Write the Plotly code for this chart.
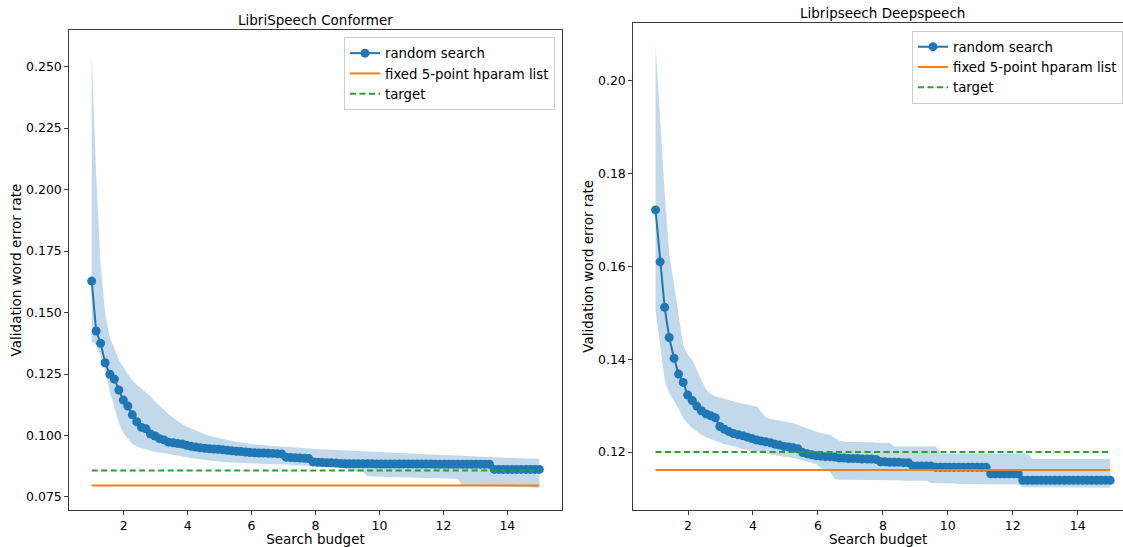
import plotly.graph_objects as go

# ---------------- data ----------------
BUDGET = [1.00, 1.14, 1.28, 1.42, 1.57, 1.71, 1.85, 1.99, 2.13, 2.27,
          2.41, 2.56, 2.70, 2.84, 2.98, 3.12, 3.26, 3.40, 3.55, 3.69,
          3.83, 3.97, 4.11, 4.25, 4.39, 4.54, 4.68, 4.82, 4.96, 5.10,
          5.24, 5.38, 5.53, 5.67, 5.81, 5.95, 6.09, 6.23, 6.37, 6.52,
          6.66, 6.80, 6.94, 7.08, 7.22, 7.36, 7.51, 7.65, 7.79, 7.93,
          8.07, 8.21, 8.35, 8.49, 8.64, 8.78, 8.92, 9.06, 9.20, 9.34,
          9.48, 9.63, 9.77, 9.91, 10.05, 10.19, 10.33, 10.47, 10.62, 10.76,
          10.90, 11.04, 11.18, 11.32, 11.46, 11.61, 11.75, 11.89, 12.03, 12.17,
          12.31, 12.45, 12.60, 12.74, 12.88, 13.02, 13.16, 13.30, 13.44, 13.59,
          13.73, 13.87, 14.01, 14.15, 14.29, 14.43, 14.58, 14.72, 14.86, 15.00]

CONF_MEAN = [0.1628, 0.1425, 0.1375, 0.1296, 0.1249, 0.1229, 0.1185, 0.1144, 0.1120, 0.1084,
             0.1056, 0.1033, 0.1027, 0.1006, 0.0998, 0.0987, 0.0982, 0.0973, 0.0970, 0.0967,
             0.0965, 0.0960, 0.0956, 0.0953, 0.0950, 0.0948, 0.0946, 0.0945, 0.0944, 0.0942,
             0.0940, 0.0938, 0.0936, 0.0935, 0.0933, 0.0931, 0.0930, 0.0929, 0.0929, 0.0928,
             0.0927, 0.0926, 0.0925, 0.0912, 0.0910, 0.0909, 0.0908, 0.0907, 0.0906, 0.0892,
             0.0891, 0.0890, 0.0889, 0.0889, 0.0888, 0.0886, 0.0885, 0.0885, 0.0885, 0.0885,
             0.0885, 0.0885, 0.0885, 0.0884, 0.0884, 0.0884, 0.0884, 0.0884, 0.0884, 0.0884,
             0.0884, 0.0884, 0.0884, 0.0884, 0.0884, 0.0884, 0.0883, 0.0883, 0.0883, 0.0883,
             0.0883, 0.0883, 0.0883, 0.0883, 0.0883, 0.0883, 0.0883, 0.0883, 0.0883, 0.0862,
             0.0862, 0.0862, 0.0862, 0.0862, 0.0862, 0.0862, 0.0862, 0.0862, 0.0862, 0.0862]

CONF_UPPER = [0.2554, 0.2059, 0.1693, 0.1500, 0.1395, 0.1355, 0.1307, 0.1278, 0.1250, 0.1226,
              0.1206, 0.1190, 0.1176, 0.1160, 0.1138, 0.1120, 0.1102, 0.1087, 0.1072, 0.1058,
              0.1047, 0.1037, 0.1029, 0.1020, 0.1012, 0.1005, 0.0999, 0.0994, 0.0990, 0.0986,
              0.0982, 0.0978, 0.0975, 0.0971, 0.0968, 0.0964, 0.0962, 0.0961, 0.0960, 0.0959,
              0.0958, 0.0957, 0.0955, 0.0953, 0.0952, 0.0951, 0.0950, 0.0948, 0.0946, 0.0945,
              0.0944, 0.0943, 0.0943, 0.0942, 0.0942, 0.0941, 0.0941, 0.0940, 0.0939, 0.0938,
              0.0937, 0.0936, 0.0935, 0.0934, 0.0932, 0.0931, 0.0930, 0.0929, 0.0928, 0.0927,
              0.0926, 0.0925, 0.0925, 0.0924, 0.0924, 0.0923, 0.0923, 0.0922, 0.0922, 0.0921,
              0.0920, 0.0919, 0.0918, 0.0917, 0.0916, 0.0915, 0.0914, 0.0914, 0.0912, 0.0911,
              0.0910, 0.0909, 0.0908, 0.0908, 0.0907, 0.0907, 0.0906, 0.0906, 0.0905, 0.0905]

CONF_LOWER = [0.1382, 0.1368, 0.1327, 0.1266, 0.1178, 0.1117, 0.1050, 0.1009, 0.0986, 0.0966,
              0.0955, 0.0948, 0.0944, 0.0938, 0.0934, 0.0932, 0.0928, 0.0925, 0.0922, 0.0918,
              0.0914, 0.0911, 0.0908, 0.0905, 0.0902, 0.0900, 0.0898, 0.0896, 0.0894, 0.0892,
              0.0891, 0.0890, 0.0889, 0.0888, 0.0887, 0.0886, 0.0886, 0.0885, 0.0885, 0.0884,
              0.0884, 0.0883, 0.0883, 0.0882, 0.0881, 0.0880, 0.0879, 0.0878, 0.0877, 0.0876,
              0.0875, 0.0874, 0.0873, 0.0872, 0.0871, 0.0870, 0.0868, 0.0858, 0.0856, 0.0855,
              0.0852, 0.0834, 0.0833, 0.0832, 0.0832, 0.0831, 0.0831, 0.0830, 0.0830, 0.0829,
              0.0829, 0.0828, 0.0828, 0.0828, 0.0827, 0.0827, 0.0827, 0.0826, 0.0826, 0.0826,
              0.0825, 0.0824, 0.0797, 0.0796, 0.0796, 0.0795, 0.0795, 0.0794, 0.0794, 0.0793,
              0.0793, 0.0792, 0.0792, 0.0791, 0.0791, 0.0790, 0.0790, 0.0789, 0.0788, 0.0787]

DEEP_MEAN = [0.1722, 0.1610, 0.1512, 0.1447, 0.1402, 0.1368, 0.1350, 0.1323, 0.1311, 0.1299,
             0.1289, 0.1282, 0.1278, 0.1274, 0.1255, 0.1249, 0.1244, 0.1240, 0.1237, 0.1235,
             0.1232, 0.1229, 0.1226, 0.1224, 0.1222, 0.1220, 0.1217, 0.1215, 0.1212, 0.1211,
             0.1209, 0.1207, 0.1199, 0.1196, 0.1194, 0.1192, 0.1191, 0.1190, 0.1190, 0.1189,
             0.1187, 0.1187, 0.1186, 0.1186, 0.1186, 0.1185, 0.1185, 0.1185, 0.1184, 0.1179,
             0.1179, 0.1178, 0.1178, 0.1178, 0.1177, 0.1177, 0.1170, 0.1170, 0.1170, 0.1170,
             0.1170, 0.1167, 0.1167, 0.1167, 0.1167, 0.1167, 0.1167, 0.1167, 0.1167, 0.1167,
             0.1167, 0.1167, 0.1167, 0.1153, 0.1153, 0.1153, 0.1153, 0.1153, 0.1153, 0.1153,
             0.1139, 0.1139, 0.1139, 0.1139, 0.1139, 0.1139, 0.1139, 0.1139, 0.1139, 0.1139,
             0.1139, 0.1139, 0.1139, 0.1139, 0.1139, 0.1139, 0.1139, 0.1139, 0.1139, 0.1139]

DEEP_UPPER = [0.2078, 0.1915, 0.1760, 0.1629, 0.1560, 0.1490, 0.1430, 0.1410, 0.1398, 0.1378,
              0.1355, 0.1335, 0.1325, 0.1320, 0.1317, 0.1314, 0.1312, 0.1309, 0.1306, 0.1304,
              0.1302, 0.1300, 0.1298, 0.1287, 0.1275, 0.1271, 0.1269, 0.1267, 0.1265, 0.1263,
              0.1262, 0.1258, 0.1254, 0.1250, 0.1247, 0.1244, 0.1241, 0.1239, 0.1237, 0.1230,
              0.1225, 0.1222, 0.1222, 0.1222, 0.1221, 0.1221, 0.1221, 0.1221, 0.1220, 0.1220,
              0.1220, 0.1220, 0.1212, 0.1212, 0.1212, 0.1212, 0.1212, 0.1212, 0.1212, 0.1212,
              0.1212, 0.1212, 0.1197, 0.1197, 0.1197, 0.1197, 0.1197, 0.1197, 0.1197, 0.1197,
              0.1197, 0.1197, 0.1197, 0.1197, 0.1197, 0.1197, 0.1197, 0.1197, 0.1197, 0.1197,
              0.1197, 0.1197, 0.1185, 0.1185, 0.1185, 0.1185, 0.1185, 0.1185, 0.1185, 0.1185,
              0.1185, 0.1185, 0.1185, 0.1185, 0.1185, 0.1185, 0.1185, 0.1185, 0.1185, 0.1185]

DEEP_LOWER = [0.1506, 0.1427, 0.1355, 0.1327, 0.1309, 0.1294, 0.1273, 0.1262, 0.1251, 0.1244,
              0.1237, 0.1232, 0.1228, 0.1224, 0.1220, 0.1217, 0.1215, 0.1212, 0.1210, 0.1207,
              0.1204, 0.1203, 0.1201, 0.1199, 0.1198, 0.1196, 0.1194, 0.1192, 0.1190, 0.1189,
              0.1187, 0.1185, 0.1182, 0.1179, 0.1176, 0.1174, 0.1166, 0.1160, 0.1158, 0.1142,
              0.1140, 0.1140, 0.1140, 0.1140, 0.1140, 0.1140, 0.1139, 0.1139, 0.1139, 0.1139,
              0.1139, 0.1139, 0.1139, 0.1139, 0.1138, 0.1138, 0.1138, 0.1138, 0.1138, 0.1138,
              0.1133, 0.1133, 0.1132, 0.1132, 0.1132, 0.1132, 0.1131, 0.1131, 0.1131, 0.1131,
              0.1131, 0.1131, 0.1130, 0.1130, 0.1130, 0.1130, 0.1130, 0.1130, 0.1130, 0.1130,
              0.1124, 0.1124, 0.1124, 0.1124, 0.1124, 0.1124, 0.1124, 0.1123, 0.1123, 0.1123,
              0.1123, 0.1123, 0.1123, 0.1123, 0.1123, 0.1123, 0.1123, 0.1123, 0.1123, 0.1123]

FIXED_LIST_WER = {"conformer": 0.0797, "deepspeech": 0.1161}
TARGET_WER = {"conformer": 0.0858, "deepspeech": 0.1200}

PANEL_TITLES = ["LibriSpeech Conformer", "Libripseech Deepspeech"]
X_TICKS = [2, 4, 6, 8, 10, 12, 14]
CONF_Y_TICKS = [0.075, 0.100, 0.125, 0.150, 0.175, 0.200, 0.225, 0.250]
DEEP_Y_TICKS = [0.12, 0.14, 0.16, 0.18, 0.20]

# ---------------- styling ----------------
BLUE = "#1f77b4"
ORANGE = "#ff7f0e"
GREEN = "#2ca02c"
BAND = "rgba(31,119,180,0.28)"
FONT = "DejaVu Sans"
W, H = 1123, 547

fig = go.Figure()


def add_panel(mean, upper, lower, fixed, target, xa, ya, legend):
    fig.add_trace(go.Scatter(x=BUDGET, y=lower, mode="lines", line=dict(width=0, color=BAND),
                             showlegend=False, hoverinfo="skip", xaxis=xa, yaxis=ya))
    fig.add_trace(go.Scatter(x=BUDGET, y=upper, mode="lines", line=dict(width=0, color=BAND),
                             fill="tonexty", fillcolor=BAND, showlegend=False, hoverinfo="skip",
                             xaxis=xa, yaxis=ya))
    fig.add_trace(go.Scatter(x=BUDGET, y=mean, mode="lines+markers", name="random search",
                             line=dict(color=BLUE, width=2), marker=dict(color=BLUE, size=9),
                             xaxis=xa, yaxis=ya, legend=legend))
    fig.add_trace(go.Scatter(x=[BUDGET[0], BUDGET[-1]], y=[fixed, fixed], mode="lines",
                             name="fixed 5-point hparam list", line=dict(color=ORANGE, width=2),
                             xaxis=xa, yaxis=ya, legend=legend))
    fig.add_trace(go.Scatter(x=[BUDGET[0], BUDGET[-1]], y=[target, target], mode="lines",
                             name="target", line=dict(color=GREEN, width=2, dash="6px,3.5px"),
                             xaxis=xa, yaxis=ya, legend=legend))


add_panel(CONF_MEAN, CONF_UPPER, CONF_LOWER, FIXED_LIST_WER["conformer"],
          TARGET_WER["conformer"], "x", "y", "legend")
add_panel(DEEP_MEAN, DEEP_UPPER, DEEP_LOWER, FIXED_LIST_WER["deepspeech"],
          TARGET_WER["deepspeech"], "x2", "y2", "legend2")

axis_common = dict(showline=True, linecolor="#3a3a3a", linewidth=1, mirror=True,
                   ticks="outside", ticklen=4, tickcolor="#3a3a3a", tickwidth=1,
                   showgrid=False, zeroline=False,
                   tickfont=dict(family=FONT, size=12.5, color="black"))

left_dom = [69.3 / W, 561.7 / W]
right_dom = [633.3 / W, 1.0]
bottom = (H - 510) / H
left_top = (H - 30) / H
right_top = (H - 22.5) / H

legend_common = dict(xanchor="left", yanchor="top", traceorder="normal",
                     bgcolor="rgba(255,255,255,0.8)", bordercolor="#cccccc", borderwidth=1,
                     font=dict(family=FONT, size=13.3), tracegroupgap=0, itemwidth=30)

fig.update_layout(
    width=W, height=H,
    margin=dict(l=0, r=0, t=0, b=0, autoexpand=False),
    paper_bgcolor="white", plot_bgcolor="white",
    font=dict(family=FONT, size=13, color="black"),
    xaxis=dict(domain=left_dom, range=[0.3, 15.7], tickvals=X_TICKS, anchor="y",
               title=dict(text="Search budget", font=dict(size=13.5), standoff=2), **axis_common),
    yaxis=dict(domain=[bottom, left_top], range=[0.0697, 0.2649], tickvals=CONF_Y_TICKS,
               tickformat=".3f", anchor="x",
               title=dict(text="Validation word error rate", font=dict(size=13.5), standoff=1),
               **axis_common),
    xaxis2=dict(domain=right_dom, range=[0.315, 15.395], tickvals=X_TICKS, anchor="y2",
                title=dict(text="Search budget", font=dict(size=13.5), standoff=2), **axis_common),
    yaxis2=dict(domain=[bottom, right_top], range=[0.1075, 0.2126], tickvals=DEEP_Y_TICKS,
                tickformat=".2f", anchor="x2",
                title=dict(text="Validation word error rate", font=dict(size=13.5), standoff=1),
                **axis_common),
    legend=dict(x=344 / W, y=(H - 37) / H, **legend_common),
    legend2=dict(x=912 / W, y=(H - 30.5) / H, **legend_common),
    annotations=[
        dict(text=PANEL_TITLES[0], xref="paper", yref="paper",
             x=(left_dom[0] + left_dom[1]) / 2, y=(H - 20) / H, xanchor="center", yanchor="middle",
             showarrow=False, font=dict(family=FONT, size=13.5, color="black")),
        dict(text=PANEL_TITLES[1], xref="paper", yref="paper",
             x=(633.3 + 1132.5) / 2 / W, y=(H - 13) / H, xanchor="center", yanchor="middle",
             showarrow=False, font=dict(family=FONT, size=13.5, color="black")),
    ],
)

fig.write_html("out.html")
